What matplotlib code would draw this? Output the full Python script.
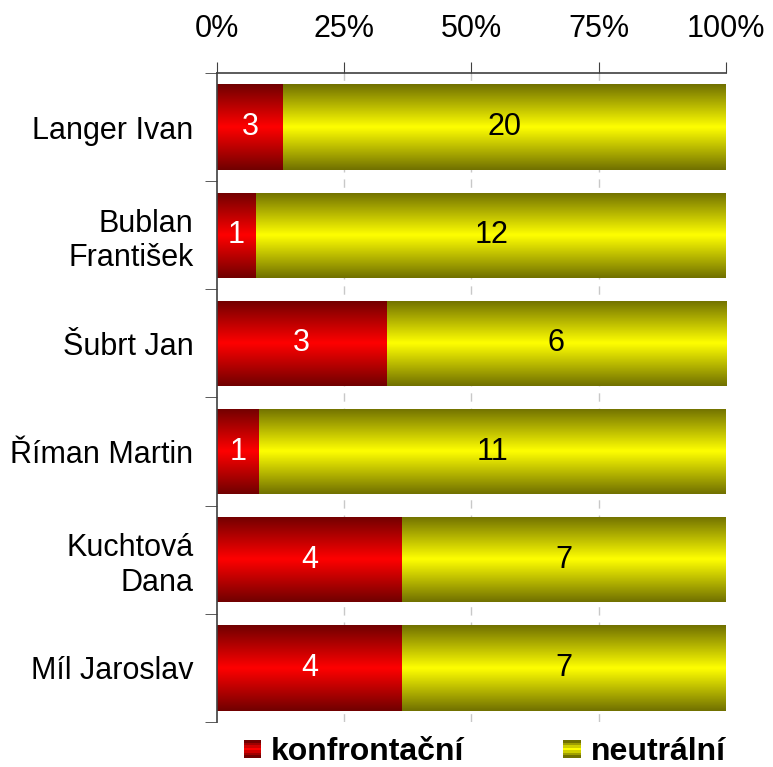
import numpy as np
import matplotlib
matplotlib.use("Agg")
import matplotlib.pyplot as plt
from matplotlib.colors import LinearSegmentedColormap
from matplotlib.patches import Rectangle
from matplotlib.legend_handler import HandlerBase

plt.rcParams['font.family'] = ['Liberation Sans', 'DejaVu Sans']

names = ["Langer Ivan", "Bublan\nFrantišek", "Šubrt Jan", "Říman Martin", "Kuchtová\nDana", "Míl Jaroslav"]
konfrontacni = [3, 1, 3, 1, 4, 4]
neutralni = [20, 12, 6, 11, 7, 7]
series_names = ["konfrontační", "neutrální"]
xticks = [0, 25, 50, 75, 100]

red_cm = LinearSegmentedColormap.from_list("r", ["#700000", "#ff0000", "#700000"])
yel_cm = LinearSegmentedColormap.from_list("y", ["#707000", "#ffff00", "#707000"])
grad = np.linspace(0, 1, 256).reshape(-1, 1)


def gradient_bar(ax, left, width, y, h, cmap):
    rect = Rectangle((left, y - h / 2), width, h, facecolor="none", edgecolor="none")
    ax.add_patch(rect)
    im = ax.imshow(grad, cmap=cmap, aspect="auto", interpolation="bicubic",
                   extent=(left, left + width, y + h / 2, y - h / 2), zorder=2)
    im.set_clip_path(rect)


class GradHandler(HandlerBase):
    def __init__(self, cmap):
        super().__init__()
        self.cmap = cmap

    def create_artists(self, legend, orig, xd, yd, w, h, fontsize, trans):
        arts = []
        n = 7
        s = w
        x0 = xd
        y0 = yd + h / 2 - s / 2
        for i in range(n):
            c = self.cmap(i / (n - 1))
            r = Rectangle((x0, y0 + i * s / n), s, s / n, facecolor=c,
                          edgecolor="none", transform=trans)
            arts.append(r)
        return arts


fig = plt.figure(figsize=(7.73, 7.67), dpi=100)
ax = fig.add_axes([0.2807, 0.0587, 0.6585, 0.8461])

n = len(names)
h = 0.79
for i in range(n):
    tot = konfrontacni[i] + neutralni[i]
    pk = konfrontacni[i] / tot * 100
    pn = neutralni[i] / tot * 100
    gradient_bar(ax, 0, pk, i, h, red_cm)
    gradient_bar(ax, pk, pn, i, h, yel_cm)
    ax.text(pk / 2, i, str(konfrontacni[i]), ha="center", va="center",
            color="white", fontsize=22, zorder=3)
    ax.text(pk + pn / 2, i, str(neutralni[i]), ha="center", va="center",
            color="black", fontsize=22, zorder=3)

ax.set_xlim(0, 100)
ax.set_ylim(n - 0.5, -0.5)
ax.xaxis.tick_top()
ax.set_xticks(xticks)
ax.set_xticklabels([f"{t}%" for t in xticks], fontsize=22)
ax.tick_params(axis="x", direction="out", length=8, color="#404040", pad=13)
ax.set_yticks(range(n))
ax.set_yticklabels(names, fontsize=22, linespacing=1.2)
ax.tick_params(axis="y", which="major", length=0, pad=17)
ax.set_yticks(np.arange(-0.5, n, 1), minor=True)
ax.tick_params(axis="y", which="minor", length=9, color="#404040")
for xv in xticks[1:-1]:
    ax.axvline(xv, color="#c8c8c8", lw=1, ls=(0, (6, 5)), zorder=1)
for s in ["right", "bottom"]:
    ax.spines[s].set_visible(False)
for s in ["left", "top"]:
    ax.spines[s].set_color("#404040")
    ax.spines[s].set_linewidth(1.2)

handles = [Rectangle((0, 0), 1, 1), Rectangle((0, 0), 1, 1)]
fig.legend(handles, series_names, loc="lower center", bbox_to_anchor=(0.627, -0.038),
           ncol=2, frameon=False, prop={"weight": "bold", "size": 23},
           handler_map={handles[0]: GradHandler(red_cm), handles[1]: GradHandler(yel_cm)},
           handlelength=0.55, handletextpad=0.3, columnspacing=3.1)

fig.savefig("out.png", dpi=100)
